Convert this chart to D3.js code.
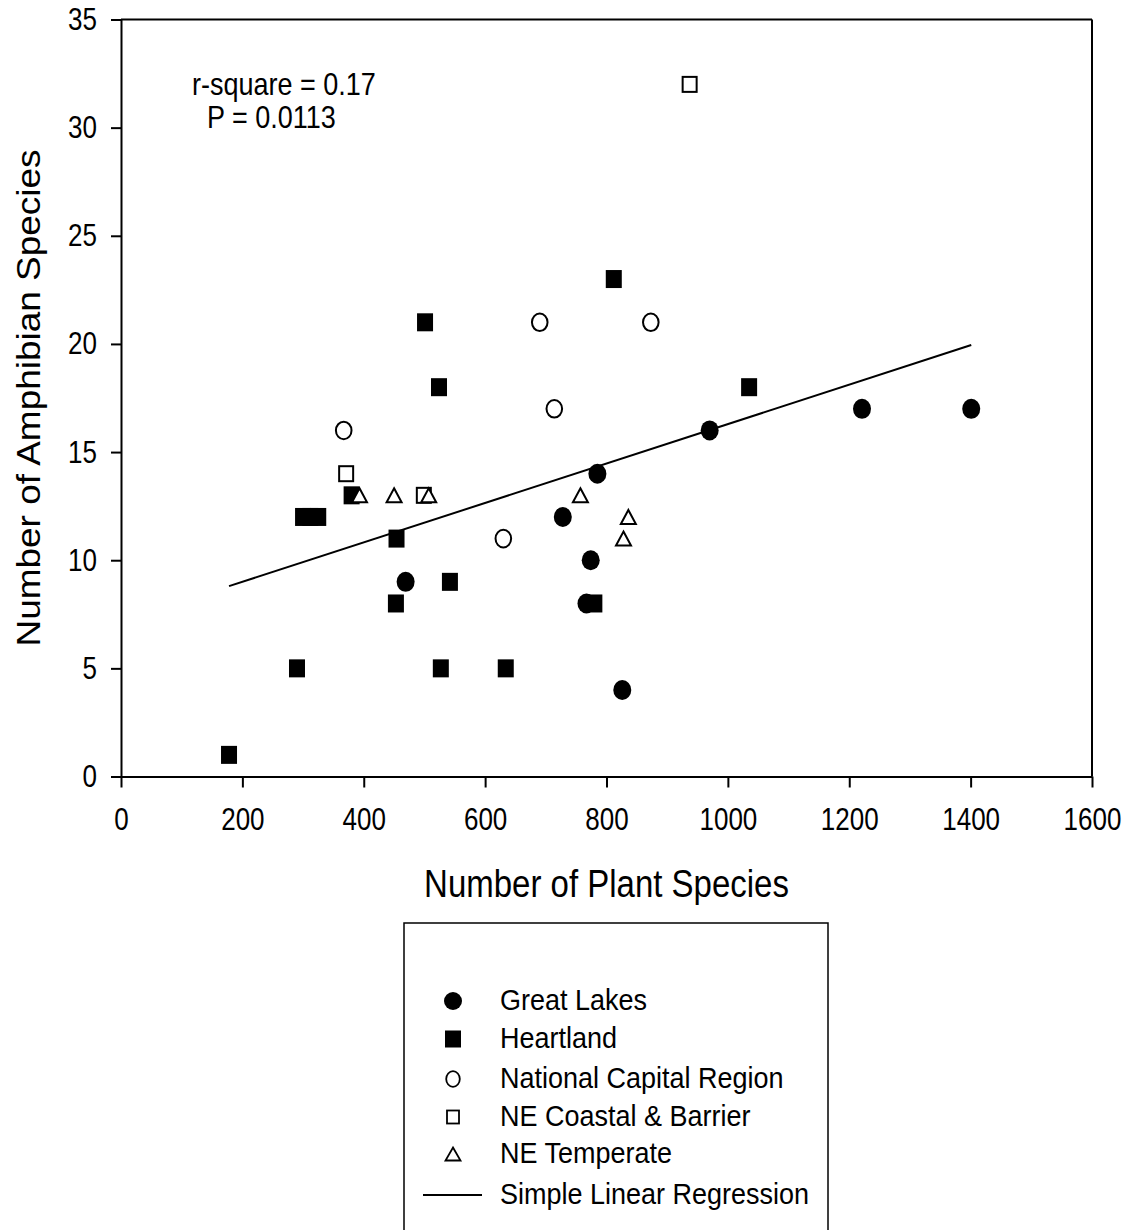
<!DOCTYPE html>
<html>
<head>
<meta charset="utf-8">
<script src="https://cdn.jsdelivr.net/npm/d3@7"></script>
<style>
  body { margin: 0; background: #fff; }
  svg { display: block; }
  text { font-family: "Liberation Sans", Arial, sans-serif; fill: #000; }
</style>
</head>
<body>
<svg id="chart" width="1128" height="1230"></svg>
<script>
// ---- data ----
const greatLakesX = [469, 728, 774, 767, 785, 826, 970, 1221, 1401];
const greatLakesY = [9, 12, 10, 8, 14, 4, 16, 17, 17];

const heartlandX = [178, 290, 527, 634, 453, 780, 542, 454, 300, 312, 325, 380, 501, 524, 812, 1035];
const heartlandY = [1, 5, 5, 5, 8, 8, 9, 11, 12, 12, 12, 13, 21, 18, 23, 18];

const ncrX = [367, 690, 873, 714, 630];
const ncrY = [16, 21, 21, 17, 11];

const neCoastalX = [937, 371, 499];
const neCoastalY = [32, 14, 13];

const neTemperateX = [393, 450, 507, 757, 836, 828];
const neTemperateY = [13, 13, 13, 13, 12, 11];

const regressionX = [178, 1401];
const regressionY = [8.8, 19.95];

const xTicks = [0, 200, 400, 600, 800, 1000, 1200, 1400, 1600];
const yTicks = [0, 5, 10, 15, 20, 25, 30, 35];

const legendLabels = ["Great Lakes", "Heartland", "National Capital Region",
                      "NE Coastal & Barrier", "NE Temperate", "Simple Linear Regression"];
const annotations = ["r-square = 0.17", "P = 0.0113"];

// ---- drawing ----
const svg = d3.select("#chart");
const x = d3.scaleLinear().domain([0, 1600]).range([121, 1092]);
const y = d3.scaleLinear().domain([0, 35]).range([776.5, 19.5]);
const SY = 1.2; // vertical stretch of the reference's lettering

const zip = (xs, ys) => xs.map((v, i) => ({x: v, y: ys[i]}));

// frame (top and right)
svg.append("line").attr("x1", x(0)).attr("x2", x(1600)).attr("y1", y(35)).attr("y2", y(35))
  .attr("stroke", "#000").attr("stroke-width", 2);
svg.append("line").attr("x1", x(1600)).attr("x2", x(1600)).attr("y1", y(35)).attr("y2", y(0))
  .attr("stroke", "#000").attr("stroke-width", 2);

// axes
const xAxis = svg.append("g").attr("transform", `translate(0,${y(0)})`)
  .call(d3.axisBottom(x).tickValues(xTicks).tickSize(11).tickSizeOuter(0).tickPadding(15).tickFormat(d3.format("d")));
const yAxis = svg.append("g").attr("transform", `translate(${x(0)},0)`)
  .call(d3.axisLeft(y).tickValues(yTicks).tickSize(10).tickSizeOuter(0).tickPadding(14).tickFormat(d3.format("d")));
[xAxis, yAxis].forEach(g => {
  g.select(".domain").attr("stroke-width", 2);
  g.selectAll(".tick line").attr("stroke-width", 2);
  g.selectAll(".tick text").attr("font-size", 26).attr("transform", `scale(1,${SY})`)
    .style("font-family", '"Liberation Sans", Arial, sans-serif');
});

// regression line
svg.append("path")
  .datum(zip(regressionX, regressionY))
  .attr("d", d3.line().x(d => x(d.x)).y(d => y(d.y)))
  .attr("fill", "none").attr("stroke", "#000").attr("stroke-width", 2);

// markers
function triPath(w, h) {
  return `M0,${-h/2} L${w/2},${h/2} L${-w/2},${h/2} Z`;
}

svg.append("g").selectAll("ellipse").data(zip(greatLakesX, greatLakesY)).join("ellipse")
  .attr("cx", d => x(d.x)).attr("cy", d => y(d.y)).attr("rx", 9).attr("ry", 10).attr("fill", "#000");

svg.append("g").selectAll("rect").data(zip(heartlandX, heartlandY)).join("rect")
  .attr("x", d => x(d.x) - 8).attr("y", d => y(d.y) - 9).attr("width", 16).attr("height", 18).attr("fill", "#000");

svg.append("g").selectAll("ellipse").data(zip(ncrX, ncrY)).join("ellipse")
  .attr("cx", d => x(d.x)).attr("cy", d => y(d.y)).attr("rx", 7.8).attr("ry", 8.8)
  .attr("fill", "#fff").attr("stroke", "#000").attr("stroke-width", 2);

svg.append("g").selectAll("rect").data(zip(neCoastalX, neCoastalY)).join("rect")
  .attr("x", d => x(d.x) - 7).attr("y", d => y(d.y) - 7.5).attr("width", 14).attr("height", 15)
  .attr("fill", "#fff").attr("stroke", "#000").attr("stroke-width", 2);

svg.append("g").selectAll("path").data(zip(neTemperateX, neTemperateY)).join("path")
  .attr("transform", d => `translate(${x(d.x)},${y(d.y)})`)
  .attr("d", triPath(15, 14))
  .attr("fill", "#fff").attr("stroke", "#000").attr("stroke-width", 2);

// annotations
svg.append("text").attr("transform", `translate(192,95) scale(1,1.14)`).attr("font-size", 27).text(annotations[0]);
svg.append("text").attr("transform", `translate(207,128) scale(1,1.14)`).attr("font-size", 27).text(annotations[1]);

// axis titles
svg.append("text").attr("transform", `translate(${(x(0) + x(1600)) / 2},897) scale(1,${SY})`)
  .attr("text-anchor", "middle").attr("font-size", 33).text("Number of Plant Species");
svg.append("text").attr("transform", `translate(40,${(y(0) + y(35)) / 2}) rotate(-90)`)
  .attr("text-anchor", "middle").attr("font-size", 33)
  .attr("textLength", 497).attr("lengthAdjust", "spacingAndGlyphs")
  .text("Number of Amphibian Species");

// legend
const lg = svg.append("g");
lg.append("rect").attr("x", 404).attr("y", 923).attr("width", 424).attr("height", 330)
  .attr("fill", "none").attr("stroke", "#000").attr("stroke-width", 1.5);
const rowY = [1001, 1039, 1079, 1117, 1154, 1195];
const sx = 453;
lg.append("ellipse").attr("cx", sx).attr("cy", rowY[0]).attr("rx", 9).attr("ry", 9).attr("fill", "#000");
lg.append("rect").attr("x", sx - 8).attr("y", rowY[1] - 8.5).attr("width", 16).attr("height", 17).attr("fill", "#000");
lg.append("ellipse").attr("cx", sx).attr("cy", rowY[2]).attr("rx", 6.8).attr("ry", 7.8)
  .attr("fill", "#fff").attr("stroke", "#000").attr("stroke-width", 1.8);
lg.append("rect").attr("x", sx - 6).attr("y", rowY[3] - 6.5).attr("width", 12).attr("height", 13)
  .attr("fill", "#fff").attr("stroke", "#000").attr("stroke-width", 1.8);
lg.append("path").attr("transform", `translate(${sx},${rowY[4]})`).attr("d", triPath(15, 13))
  .attr("fill", "#fff").attr("stroke", "#000").attr("stroke-width", 1.8);
lg.append("line").attr("x1", 423).attr("x2", 482).attr("y1", rowY[5]).attr("y2", rowY[5])
  .attr("stroke", "#000").attr("stroke-width", 2);
lg.selectAll("text.lbl").data(legendLabels).join("text").attr("class", "lbl")
  .attr("transform", (d, i) => `translate(500,${rowY[i] + 9}) scale(1,1.08)`)
  .attr("font-size", 27).text(d => d);
</script>
</body>
</html>
